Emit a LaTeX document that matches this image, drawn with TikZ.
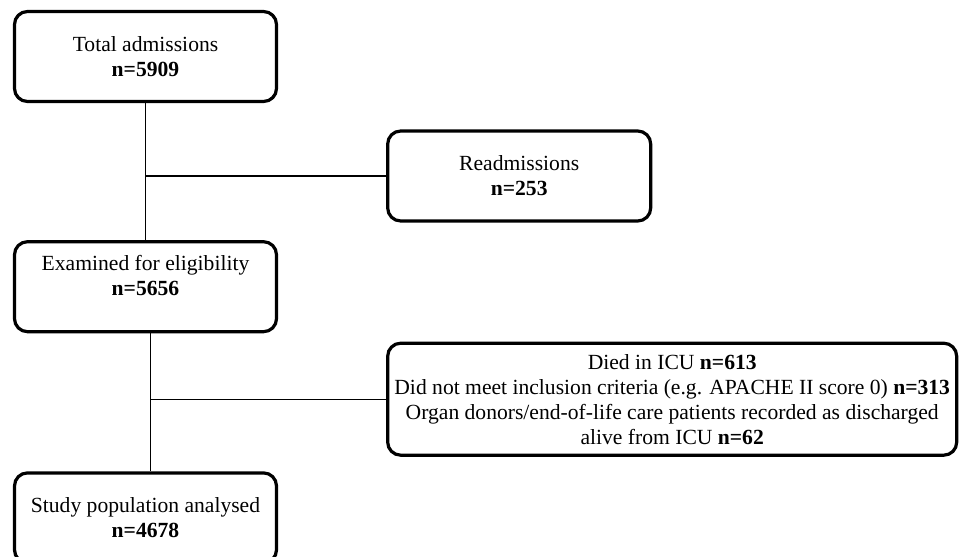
\documentclass[tikz,border=0pt]{standalone}
\usepackage{fontspec}
\setmainfont{Liberation Serif}
\usetikzlibrary{positioning}

\begin{document}
\begin{tikzpicture}[
  x=1pt, y=-1pt,
  font=\fontsize{21.6}{25}\selectfont,
  stage/.style={draw, line width=3.2pt, rounded corners=13pt, align=center, minimum width=262pt, minimum height=90pt, inner sep=4pt},
  excl/.style={stage, minimum width=263pt},
  link/.style={draw, line width=1.2pt}
]
\useasboundingbox (0,0) rectangle (959,557);

\node[stage] at (145.5,56.5) (total) {Total admissions\\\textbf{n=5909}};
\node[stage, below=137pt of total, text depth=22pt] (examined) {Examined for eligibility\\\textbf{n=5656}};
\node[stage, below=138pt of examined] (study) {Study population analysed\\\textbf{n=4678}};

\node[excl, right=108pt of total, yshift=-119.5pt] (readm) {Readmissions\\\textbf{n=253}};
\node[excl, right=108pt of examined, yshift=-112.5pt, minimum width=569pt, minimum height=112pt] (died)
  {Died in ICU \textbf{n=613}\\
   Did not meet inclusion criteria (e.g. APACHE II score 0) \textbf{n=313}\\
   Organ donors/end-of-life care patients recorded as discharged\\
   alive from ICU \textbf{n=62}};

\draw[link] (total.south) -- (total.south |- examined.north);
\draw[link] (total.south |- readm.west) -- (readm.west);
\draw[link] ([xshift=5pt]examined.south) -- ([xshift=5pt]examined.south |- study.north);
\draw[link] ([xshift=5pt]examined.south |- died.west) -- (died.west);

\end{tikzpicture}
\end{document}
